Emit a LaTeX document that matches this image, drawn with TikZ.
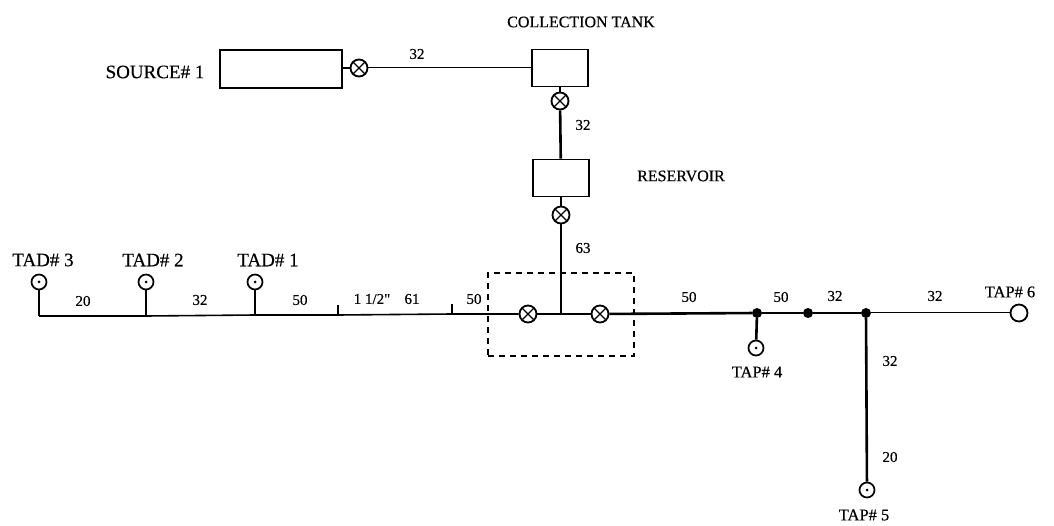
\documentclass[tikz,border=0pt]{standalone}
\usepackage{fontspec}
\setmainfont{Liberation Serif}
\newfontfamily\scanfont[FakeBold=0.4]{Liberation Serif}
\tikzset{
  thinpipe/.style={line width=1pt},
  midpipe/.style={line width=1.6pt},
  thickpipe/.style={line width=2.6pt},
  tank/.style={draw,line width=1.7pt,inner sep=0pt,fill=white},
  valve/.style={circle,draw,line width=1.8pt,minimum size=17pt,inner sep=0pt,fill=white,
    path picture={\draw[black,line width=1.3pt] (path picture bounding box.north west)--(path picture bounding box.south east)
      (path picture bounding box.north east)--(path picture bounding box.south west);}},
  outlet/.style={circle,draw,line width=1.7pt,minimum size=15pt,inner sep=0pt,fill=white,
    path picture={\fill[black] (path picture bounding box.center) circle (1.5pt);}},
  endcap/.style={circle,draw,line width=1.8pt,minimum size=17pt,inner sep=0pt,fill=white},
  joint/.style={circle,fill=black,minimum size=10pt,inner sep=0pt},
  lbl/.style={font=\scanfont\fontsize{19}{21}\selectfont,inner sep=0pt},
  taplbl/.style={font=\scanfont\fontsize{16.5}{19}\selectfont,inner sep=0pt},
  title/.style={font=\scanfont\fontsize{16}{18}\selectfont,inner sep=0pt},
  num/.style={font=\scanfont\fontsize{15}{17}\selectfont,inner sep=0pt},
}
\begin{document}
\begin{tikzpicture}[x=1pt,y=-1pt]
\useasboundingbox (0,0) rectangle (1054,526);
% coordinates
\coordinate (m0) at (39,316);
\coordinate (j2) at (146,316);
\coordinate (j1) at (255,315);
\coordinate (t1) at (338,315);
\coordinate (t1t) at (338,305);
\coordinate (t2) at (452,314);
\coordinate (t2t) at (452,304);
\coordinate (brj) at (561,314);
% equipment
\node[tank,minimum width=122pt,minimum height=38pt] (source) at (281,69) {};
\node[tank,minimum width=56pt,minimum height=37pt] (ctank) at (560,68) {};
\node[tank,minimum width=56pt,minimum height=37pt] (res) at (561,178) {};
\node[valve] (v0) at (359,68) {};
\node[valve] (v1) at (560,101) {};
\node[valve] (v2) at (561,215) {};
\node[valve] (v3) at (528,314) {};
\node[valve] (v4) at (600,314) {};
\node[outlet] (tad3) at (39,282) {};
\node[outlet] (tad2) at (146,282) {};
\node[outlet] (tad1) at (255,282) {};
\node[outlet] (tap4) at (756,348) {};
\node[outlet] (tap5) at (867,490) {};
\node[endcap] (tap6) at (1019,313) {};
\node[joint] (d1) at (757,313) {};
\node[joint] (d2) at (808,313) {};
\node[joint] (d3) at (866,313) {};
% pipes
\draw[midpipe] (source.east |- v0) -- (v0);
\draw[thinpipe] (v0) -- (ctank.west |- v0);
\draw[thickpipe] (ctank) -- (v1);
\draw[thickpipe] (v1) -- (res);
\draw[midpipe] (res) -- (v2);
\draw[thickpipe] (v2) -- (brj);
\draw[thickpipe] (tad3) -- (m0);
\draw[thickpipe] (tad2) -- (j2);
\draw[thickpipe] (tad1) -- (j1);
\draw[midpipe] (m0) -- (j2) -- (j1) -- (t1) -- (t2) -- (v3);
\draw[thickpipe] (t1) -- (t1t);
\draw[thickpipe] (t2) -- (t2t);
\draw[midpipe] (v3) -- (brj) -- (v4);
\draw[thickpipe] (v4) -- (d1);
\draw[midpipe] (d1) -- (d2);
\draw[thickpipe] (d2) -- (d3);
\draw[thinpipe] (d3) -- (tap6);
\draw[thickpipe] (d1) -- (tap4);
\draw[thickpipe] (d3) -- (tap5);
% dashed enclosure
\node[draw,line width=1.2pt,dash pattern=on 6pt off 5pt,minimum width=146pt,minimum height=83pt,inner sep=0pt] (skid) at (561,314.5) {};
% labels
\node[title] (lct) at (581,22) {COLLECTION TANK};
\node[lbl] (lsrc) at (155,72) {SOURCE\# 1};
\node[title] (lres) at (681,176) {RESERVOIR};
\node[lbl] (ltad3) at (43,260) {TAD\# 3};
\node[lbl] (ltad2) at (153,260) {TAD\# 2};
\node[lbl] (ltad1) at (268,260) {TAD\# 1};
\node[taplbl] (ltap4) at (757,372) {TAP\# 4};
\node[taplbl] (ltap5) at (864,515) {TAP\# 5};
\node[taplbl] (ltap6) at (1010,292) {TAP\# 6};
\node[num] (n1) at (417,54) {32};
\node[num] (n2) at (583,125) {32};
\node[num] (n3) at (583,248) {63};
\node[num] (n4) at (83,301) {20};
\node[num] (n5) at (200,300) {32};
\node[num] (n6) at (300,300) {50};
\node[num] (n7) at (372,299) {1 1/2"};
\node[num] (n8) at (412,299) {61};
\node[num] (n9) at (474,299) {50};
\node[num] (n10) at (689,297) {50};
\node[num] (n11) at (781,297) {50};
\node[num] (n12) at (835,296) {32};
\node[num] (n13) at (935,296) {32};
\node[num] (n14) at (890,361) {32};
\node[num] (n15) at (890,457) {20};
\end{tikzpicture}
\end{document}
